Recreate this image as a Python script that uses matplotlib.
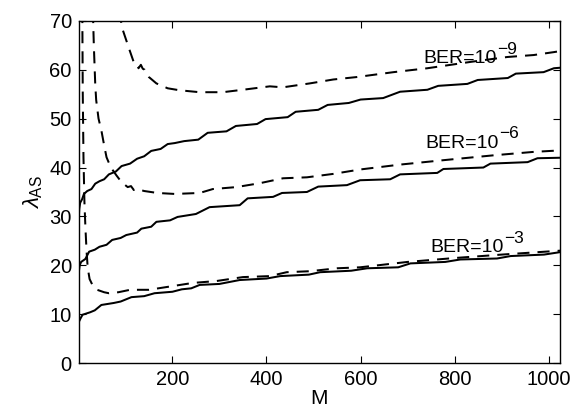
import matplotlib
matplotlib.use("Agg")
import matplotlib.pyplot as plt

plt.rcParams['font.family'] = ['Liberation Sans', 'DejaVu Sans']
plt.rcParams['mathtext.fontset'] = 'custom'
plt.rcParams['mathtext.rm'] = 'Liberation Sans'
plt.rcParams['mathtext.it'] = 'Liberation Sans:italic'
plt.rcParams['mathtext.bf'] = 'Liberation Sans:bold'

# ---- data ----
solid9_M = [1, 2, 4, 8, 12, 19, 28, 36, 45, 55, 65, 80, 92, 110, 125, 140, 155, 175, 190, 205, 225,
            255, 275, 315, 335, 380, 398, 445, 462, 510, 530, 575, 600, 648, 684, 742, 765, 827, 849,
            913, 930, 989, 1011, 1024]
solid9_v = [29.5, 31.5, 32.8, 33.5, 34.6, 35.2, 35.6, 36.7, 37.2, 37.6, 38.6, 39.2, 40.3, 40.8, 41.8,
            42.3, 43.4, 43.8, 44.8, 45.0, 45.4, 45.7, 47.1, 47.4, 48.5, 48.9, 49.9, 50.3, 51.4, 51.8,
            52.8, 53.2, 53.9, 54.2, 55.5, 55.9, 56.7, 57.1, 57.9, 58.3, 59.2, 59.5, 60.3, 60.4]

solid6_M = [1, 3, 6, 15, 23, 35, 45, 60, 72, 90, 102, 125, 134, 155, 166, 195, 211, 250, 279, 343, 360,
            414, 433, 486, 510, 571, 599, 663, 684, 763, 776, 861, 876, 955, 976, 1024]
solid6_v = [18.6, 20.0, 20.7, 21.3, 22.8, 23.2, 23.8, 24.2, 25.2, 25.6, 26.2, 26.7, 27.5, 27.9, 28.9,
            29.2, 29.9, 30.5, 31.9, 32.3, 33.7, 34.0, 34.8, 35.0, 36.1, 36.4, 37.4, 37.6, 38.6, 38.9,
            39.7, 40.0, 40.8, 41.1, 41.9, 42.0]

solid3_M = [1, 5, 9, 25, 35, 49, 75, 90, 113, 140, 162, 200, 220, 240, 258, 300, 343, 400, 429, 490,
            514, 580, 614, 680, 706, 780, 812, 890, 919, 990, 1024]
solid3_v = [8.4, 9.2, 9.9, 10.4, 10.8, 11.9, 12.3, 12.6, 13.5, 13.7, 14.3, 14.6, 15.1, 15.3, 16.0, 16.2,
            17.0, 17.3, 17.8, 18.1, 18.6, 18.9, 19.4, 19.6, 20.4, 20.7, 21.2, 21.4, 21.9, 22.2, 22.7]

dash3_M = [8.5, 9.5, 11, 13, 15, 17.5, 20, 24, 30, 40, 55, 65, 85, 110, 150, 190, 243, 294, 350, 407,
           443, 492, 550, 599, 700, 800, 900, 1024]
dash3_v = [72, 55, 42, 33, 28, 23, 19.5, 17.2, 16, 15, 14.5, 14.3, 14.5, 15.0, 15.0, 15.6, 16.4, 16.8,
           17.6, 17.8, 18.6, 18.8, 19.4, 19.6, 20.7, 21.5, 22.2, 23.0]

dash6_M = [31, 33, 36, 38, 43, 49, 55, 60, 67, 73, 81, 92, 105, 112, 118, 125, 140, 168, 205, 258, 286,
           336, 386, 435, 486, 542, 599, 684, 776, 883, 968, 1024]
dash6_v = [72, 65, 57, 53.8, 50, 47.6, 44.5, 42.1, 40.5, 39.5, 38.4, 37, 36, 36.2, 35.4, 35.6, 35.2,
           34.8, 34.6, 34.8, 35.6, 36.0, 36.8, 37.8, 38.0, 38.7, 39.6, 40.6, 41.5, 42.5, 43.2, 43.5]

dash9_M = [86, 95, 109, 118, 124, 128, 133, 137, 141, 150, 166, 190, 215, 258, 307, 358, 407, 435, 492,
           542, 592, 670, 742, 834, 912, 968, 1011, 1024]
dash9_v = [72, 68, 64, 61.5, 61.3, 60.3, 61.0, 60.2, 60.0, 58.5, 57.2, 56.2, 55.8, 55.4, 55.4, 56.0,
           56.6, 56.4, 57.2, 58.0, 58.5, 59.5, 60.3, 61.6, 62.6, 63.0, 63.6, 63.8]

label_base = "BER=10"
label_exps = ["\u22129", "\u22126", "\u22123"]
label_pos = [(733, 61.3), (738, 44.0), (748, 22.7)]

xticks = [200, 400, 600, 800, 1000]
yticks = [0, 10, 20, 30, 40, 50, 60, 70]

# ---- figure ----
fig = plt.figure(figsize=(5.75, 4.16), dpi=100)
ax = fig.add_axes([0.137, 0.127, 0.837, 0.823])

lw = 1.45
for M, v in [(solid9_M, solid9_v), (solid6_M, solid6_v), (solid3_M, solid3_v)]:
    ax.plot(M, v, color='black', lw=lw, solid_joinstyle='round')
for M, v in [(dash9_M, dash9_v), (dash6_M, dash6_v), (dash3_M, dash3_v)]:
    ax.plot(M, v, color='black', lw=lw, linestyle=(0, (6, 4)))

for exp, (x, y) in zip(label_exps, label_pos):
    t = ax.text(x, y, label_base, fontsize=14, ha='left', va='baseline')
    ax.annotate(exp, xy=(1.0, 1.0), xycoords=t, xytext=(0.5, -2.5),
                textcoords='offset points', fontsize=12.5, ha='left', va='baseline')

ax.set_xlim(1, 1024)
ax.set_ylim(0, 70)
ax.set_xticks(xticks)
ax.set_yticks(yticks)
ax.tick_params(direction='in', top=True, right=True, length=5, width=0.8, labelsize=14.5, pad=5)
for s in ax.spines.values():
    s.set_linewidth(1.0)

ax.set_xlabel('M', fontsize=15, labelpad=0)
ax.set_ylabel(r'$\lambda_{\rm AS}$', fontsize=16, labelpad=3)

fig.savefig('out.png', dpi=100)
